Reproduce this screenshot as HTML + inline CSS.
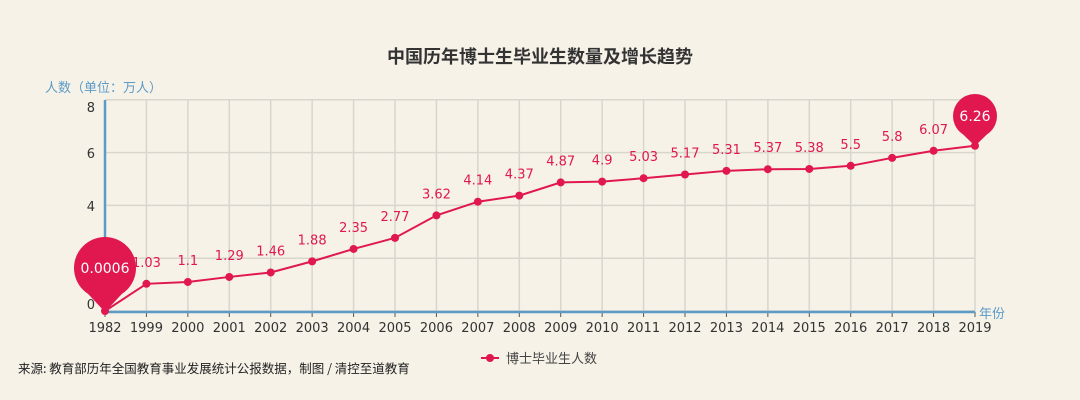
<!DOCTYPE html>
<html><head><meta charset="utf-8"><style>
body{margin:0;background:#f6f2e8;}
svg{display:block;font-family:"DejaVu Sans","Noto Sans CJK SC",sans-serif;}
</style></head><body>
<svg id="c" width="1080" height="400" xmlns="http://www.w3.org/2000/svg">
<rect width="1080" height="400" fill="#f6f2e8"/>
<text x="540" y="63" text-anchor="middle" font-size="18" font-weight="bold" fill="#333" font-family="'Noto Sans CJK SC',sans-serif">中国历年博士生毕业生数量及增长趋势</text>
<text x="45" y="92" font-size="13" fill="#5b9bc8" font-family="'Noto Sans CJK SC',sans-serif">人数（单位：万人）</text>
<text x="979" y="318" font-size="13" fill="#5b9bc8" font-family="'Noto Sans CJK SC',sans-serif">年份</text>
<text x="18" y="373" font-size="12.5" fill="#222" font-family="'Noto Sans CJK SC',sans-serif">来源: 教育部历年全国教育事业发展统计公报数据，制图 / 清控至道教育</text>
<line x1="481" y1="358" x2="499" y2="358" stroke="#e0184f" stroke-width="2"/>
<circle cx="490" cy="358" r="4" fill="#e0184f"/>
<text x="506" y="363" font-size="13" fill="#444" font-family="'Noto Sans CJK SC',sans-serif">博士毕业生人数</text>
<g id="g"></g>
</svg>
<script>
var years=[1982,1999,2000,2001,2002,2003,2004,2005,2006,2007,2008,2009,2010,2011,2012,2013,2014,2015,2016,2017,2018,2019];
var v=[0.0006,1.03,1.1,1.29,1.46,1.88,2.35,2.77,3.62,4.14,4.37,4.87,4.9,5.03,5.17,5.31,5.37,5.38,5.5,5.8,6.07,6.26];
var X=function(i){return 105+i*870/21;},Y=function(t){return 311-26.4*t;};
var s='';
for(var k=0;k<=8;k+=2){s+='<line x1="105" x2="975" y1="'+Y(k)+'" y2="'+Y(k)+'" stroke="#d9d6cf" stroke-width="1.5"/>';}
for(var i=0;i<22;i++){s+='<line x1="'+X(i)+'" x2="'+X(i)+'" y1="100" y2="312" stroke="#d9d6cf" stroke-width="1.5"/>';
s+='<line x1="'+X(i)+'" x2="'+X(i)+'" y1="312" y2="317" stroke="#555" stroke-width="1"/>';
s+='<text x="'+X(i)+'" y="332" text-anchor="middle" font-size="13" fill="#333">'+years[i]+'</text>';}
var lab={8:112,6:158,4:211,0:309};
for(var k in lab){s+='<text x="95" y="'+lab[k]+'" text-anchor="end" font-size="13" fill="#333">'+k+'</text>';}
s+='<line x1="105" y1="100" x2="105" y2="312" stroke="#5b9bc8" stroke-width="2.5"/>';
s+='<line x1="105" y1="312" x2="975" y2="312" stroke="#5b9bc8" stroke-width="2.5"/>';
var p='';for(i=0;i<22;i++)p+=(i?'L':'M')+X(i)+' '+Y(v[i]);
s+='<path d="'+p+'" fill="none" stroke="#e0184f" stroke-width="2"/>';
for(i=0;i<22;i++){s+='<circle cx="'+X(i)+'" cy="'+Y(v[i])+'" r="4" fill="#e0184f"/>';
if(i>0&&i<21)s+='<text x="'+X(i)+'" y="'+(Y(v[i])-17)+'" text-anchor="middle" font-size="13" fill="#e0184f">'+v[i]+'</text>';}
function pin(cx,cy,r,tipY,t,fs){return '<path d="M'+(cx-r*0.55)+' '+(cy+r*0.83)+' L'+cx+' '+tipY+' L'+(cx+r*0.55)+' '+(cy+r*0.83)+' Z" fill="#e0184f"/><circle cx="'+cx+'" cy="'+cy+'" r="'+r+'" fill="#e0184f"/><text x="'+cx+'" y="'+(cy+5)+'" text-anchor="middle" font-size="'+fs+'" fill="#fff">'+t+'</text>';}
s+=pin(105,268,31,312,'0.0006',14);
s+=pin(975,116,22,146,'6.26',14);
document.getElementById('g').innerHTML=s;
</script>
</body></html>
